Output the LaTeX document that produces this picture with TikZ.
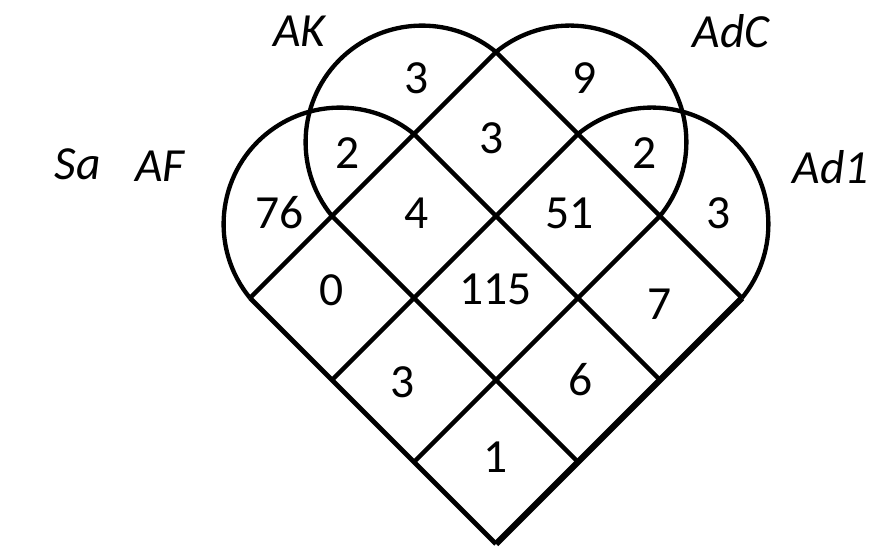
\documentclass[tikz,border=0pt]{standalone}
\usepackage{fontspec}
\setmainfont{Carlito}
\begin{document}
\begin{tikzpicture}[
  count/.style={font=\fontsize{33}{40}\selectfont},
  setname/.style={font=\fontsize{33}{40}\selectfont\itshape},
  setline/.style={line width=3pt, line join=miter}]
\useasboundingbox (-12.098,-0.073) rectangle (9.561,13.268);
% diamond grid
\draw[setline] (-6,6) -- (0,12);
\draw[setline] (-4,4) -- (2,10);
\draw[setline] (-2,2) -- (4,8);
\draw[setline, line width=4.2pt] (0,0) -- (6,6);
\draw[setline, line width=3.4pt] (-6,6) -- (0,0);
\draw[setline] (-4,8) -- (2,2);
\draw[setline] (-2,10) -- (4,4);
\draw[setline] (0,12) -- (6,6);
% round tops
\draw[setline] (-6,6) arc[start angle=219.35, end angle=50.65, radius=2.842];
\draw[setline] (-4,8) arc[start angle=219.35, end angle=50.65, radius=2.842];
\draw[setline] (0,12) arc[start angle=129.35, end angle=-39.35, radius=2.842];
\draw[setline] (2,10) arc[start angle=129.35, end angle=-39.35, radius=2.842];
% set names
\node[setname] (sa) at (-10.20,9.25) {Sa};
\node[setname] (af) at (-8.20,9.22) {AF};
\node[setname] (ak) at (-4.80,12.51) {AK};
\node[setname] (adc) at (5.73,12.51) {AdC};
\node[setname] (adone) at (8.17,9.20) {Ad1};
% counts
\node[count] (akonly) at (-1.93,11.37) {3};
\node[count] (adconly) at (2.17,11.37) {9};
\node[count] (afak) at (-3.63,9.54) {2};
\node[count] (akadc) at (-0.10,9.90) {3};
\node[count] (adcadone) at (3.63,9.54) {2};
\node[count] (afonly) at (-5.27,8.07) {76};
\node[count] (afakadc) at (-1.95,8.07) {4};
\node[count] (akadcadone) at (1.80,8.07) {51};
\node[count] (adoneonly) at (5.44,8.07) {3};
\node[count] (afadc) at (-4.00,6.20) {0};
\node[count] (all) at (-0.02,6.20) {115};
\node[count] (akadone) at (4.00,5.85) {7};
\node[count] (afadcadone) at (-2.27,3.95) {3};
\node[count] (afakadone) at (2.05,4.00) {6};
\node[count] (afadone) at (-0.02,2.12) {1};
\end{tikzpicture}
\end{document}
